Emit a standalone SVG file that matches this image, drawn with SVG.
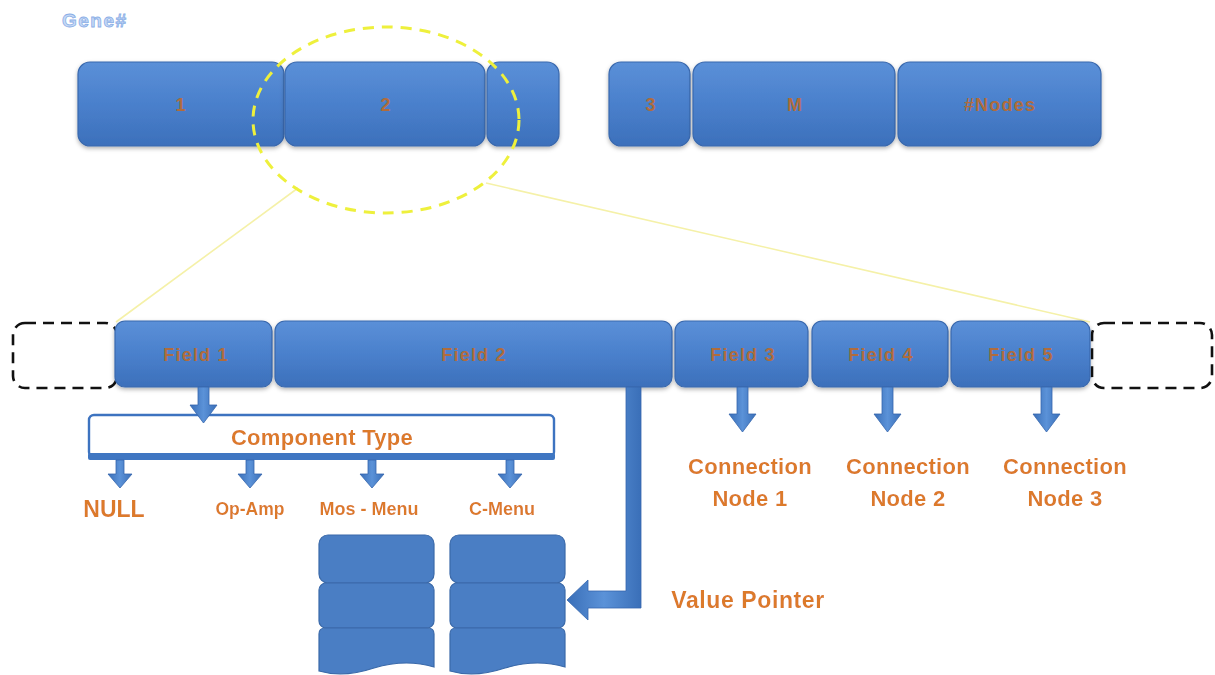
<svg xmlns="http://www.w3.org/2000/svg" width="1215" height="675" viewBox="0 0 1215 675">
  <defs>
    <linearGradient id="boxFill" x1="0" y1="0" x2="0" y2="1">
      <stop offset="0" stop-color="#5b90d8"/>
      <stop offset="0.5" stop-color="#4a80cc"/>
      <stop offset="1" stop-color="#3c70bb"/>
    </linearGradient>
    <linearGradient id="arrowFill" x1="0" y1="0" x2="1" y2="0">
      <stop offset="0" stop-color="#3a6fb8"/>
      <stop offset="0.5" stop-color="#5b92d8"/>
      <stop offset="1" stop-color="#3a6fb8"/>
    </linearGradient>
    <filter id="shadow" x="-10%" y="-20%" width="120%" height="150%">
      <feDropShadow dx="0" dy="2" stdDeviation="2" flood-color="#000" flood-opacity="0.3"/>
    </filter>
    <filter id="glow" x="-20%" y="-40%" width="140%" height="180%">
      <feGaussianBlur in="SourceAlpha" stdDeviation="1.2" result="b"/>
      <feFlood flood-color="#ffffff" flood-opacity="0.55"/>
      <feComposite in2="b" operator="in" result="g"/>
      <feMerge><feMergeNode in="g"/><feMergeNode in="SourceGraphic"/></feMerge>
    </filter>
  </defs>
  <style>
    .box { fill: url(#boxFill); stroke: #3968ad; stroke-width: 1.2; filter: url(#shadow); }
    .boxlabel { font-family: "Liberation Sans", Arial, sans-serif; font-weight: bold; font-size: 18px; letter-spacing: 1.2px; fill: #b06c3c; text-anchor: middle; }
    .label { font-family: "Liberation Sans", Arial, sans-serif; font-weight: bold; fill: #dc7a2c; text-anchor: middle; filter: url(#glow); }
    .dashbox { fill: none; stroke: #111; stroke-width: 2.6; stroke-dasharray: 11 7; }
    .arrow { fill: url(#arrowFill); stroke: #3566ad; stroke-width: 0.8; }
    .zoomline { stroke: #f5f1a8; stroke-width: 1.6; fill: none; }
    .stack { fill: #4a7ec4; stroke: #3a69a9; stroke-width: 1.2; }
    .node-text { font-size: 22px; letter-spacing: 0.3px; }
  </style>

  <!-- title -->
  <text x="62" y="27" font-family="Liberation Sans, Arial, sans-serif" font-weight="bold" font-size="19" letter-spacing="1.5" fill="#c6d9f6" stroke="#8aaee6" stroke-width="0.8">Gene#</text>

  <!-- top row of genes -->
  <g id="gene-1"><rect class="box" x="78" y="62" width="206" height="84" rx="12"/><text class="boxlabel" x="181" y="111">1</text></g>
  <g id="gene-2"><rect class="box" x="285" y="62" width="200" height="84" rx="12"/><text class="boxlabel" x="386" y="111">2</text></g>
  <g id="gene-2b"><rect class="box" x="487" y="62" width="72" height="84" rx="12"/></g>
  <g id="gene-3"><rect class="box" x="609" y="62" width="81" height="84" rx="12"/><text class="boxlabel" x="651" y="111">3</text></g>
  <g id="gene-m"><rect class="box" x="693" y="62" width="202" height="84" rx="12"/><text class="boxlabel" x="795" y="111">M</text></g>
  <g id="gene-nodes"><rect class="box" x="898" y="62" width="203" height="84" rx="12"/><text class="boxlabel" x="1000" y="111">#Nodes</text></g>

  <!-- zoom lens over gene 2 -->
  <g id="zoom-lens">
    <line class="zoomline" x1="298" y1="188" x2="116" y2="322"/>
    <line class="zoomline" x1="486" y1="183" x2="1090" y2="322"/>
    <ellipse cx="386" cy="120" rx="133" ry="93" fill="none" stroke="#eef03c" stroke-width="3" stroke-dasharray="11 8"/>
  </g>

  <!-- expanded gene fields -->
  <g id="gap-left"><rect class="dashbox" x="13" y="323" width="104" height="65" rx="12"/></g>
  <g id="gap-right"><rect class="dashbox" x="1092" y="323" width="120" height="65" rx="12"/></g>
  <g id="field-1"><rect class="box" x="115" y="321" width="157" height="66" rx="10"/><text class="boxlabel" x="196" y="361">Field 1</text></g>
  <g id="field-2"><rect class="box" x="275" y="321" width="397" height="66" rx="10"/><text class="boxlabel" x="474" y="361">Field 2</text></g>
  <g id="field-3"><rect class="box" x="675" y="321" width="133" height="66" rx="10"/><text class="boxlabel" x="743" y="361">Field 3</text></g>
  <g id="field-4"><rect class="box" x="812" y="321" width="136" height="66" rx="10"/><text class="boxlabel" x="881" y="361">Field 4</text></g>
  <g id="field-5"><rect class="box" x="951" y="321" width="139" height="66" rx="10"/><text class="boxlabel" x="1021" y="361">Field 5</text></g>

  <!-- component type selector -->
  <g id="component-type">
    <rect x="89" y="415" width="465" height="42" rx="5" fill="#fff" stroke="#3d73c0" stroke-width="2.4"/>
    <rect x="88" y="453" width="467" height="7" rx="2" fill="#3f76c2"/>
    <text class="label" x="322" y="445" font-size="22" letter-spacing="0.3">Component Type</text>
  </g>

  <g id="type-null"><text class="label" x="114" y="517" font-size="23">NULL</text></g>
  <g id="type-opamp"><text class="label" x="250" y="515" font-size="17.5">Op-Amp</text></g>
  <g id="type-mos"><text class="label" x="369" y="515" font-size="18">Mos - Menu</text></g>
  <g id="type-cmenu"><text class="label" x="502" y="515" font-size="18">C-Menu</text></g>

  <!-- menu tables -->
  <g id="mos-table">
    <rect class="stack" x="319" y="535" width="115" height="48" rx="9"/>
    <rect class="stack" x="319" y="583" width="115" height="45" rx="7"/>
    <path class="stack" d="M319,634 Q319,628 325,628 H428 Q434,628 434,634 V667 C414,661 394,662 374,668 C356,674 336,676 319,671 Z"/>
  </g>
  <g id="c-table">
    <rect class="stack" x="450" y="535" width="115" height="48" rx="9"/>
    <rect class="stack" x="450" y="583" width="115" height="45" rx="7"/>
    <path class="stack" d="M450,634 Q450,628 456,628 H559 Q565,628 565,634 V667 C545,661 525,662 505,668 C487,674 467,676 450,671 Z"/>
  </g>

  <g id="value-pointer-label"><text class="label" x="748" y="608" font-size="23" letter-spacing="0.6">Value Pointer</text></g>

  <g id="node-1"><text class="label node-text" x="750" y="474">Connection</text><text class="label node-text" x="750" y="506">Node 1</text></g>
  <g id="node-2"><text class="label node-text" x="908" y="474">Connection</text><text class="label node-text" x="908" y="506">Node 2</text></g>
  <g id="node-3"><text class="label node-text" x="1065" y="474">Connection</text><text class="label node-text" x="1065" y="506">Node 3</text></g>

  <!-- connectors -->
  <g id="connectors">
    <path class="arrow" d="M198,387 H209 V405 H217 L203.5,423 L190,405 H198 Z"/>
    <path class="arrow" d="M116,460 H124 V474 H132 L120,488 L108,474 H116 Z"/>
    <path class="arrow" d="M246,460 H254 V474 H262 L250,488 L238,474 H246 Z"/>
    <path class="arrow" d="M368,460 H376 V474 H384 L372,488 L360,474 H368 Z"/>
    <path class="arrow" d="M506,460 H514 V474 H522 L510,488 L498,474 H506 Z"/>
    <path class="arrow" d="M737,387 H748 V414 H756 L742.5,432 L729,414 H737 Z"/>
    <path class="arrow" d="M882,387 H893 V414 H901 L887.5,432 L874,414 H882 Z"/>
    <path class="arrow" d="M1041,387 H1052 V414 H1060 L1046.5,432 L1033,414 H1041 Z"/>
    <path class="arrow" d="M626,387 H641 V608 H588 V620 L567,600 L588,580 V591 H626 Z"/>
  </g>
</svg>
